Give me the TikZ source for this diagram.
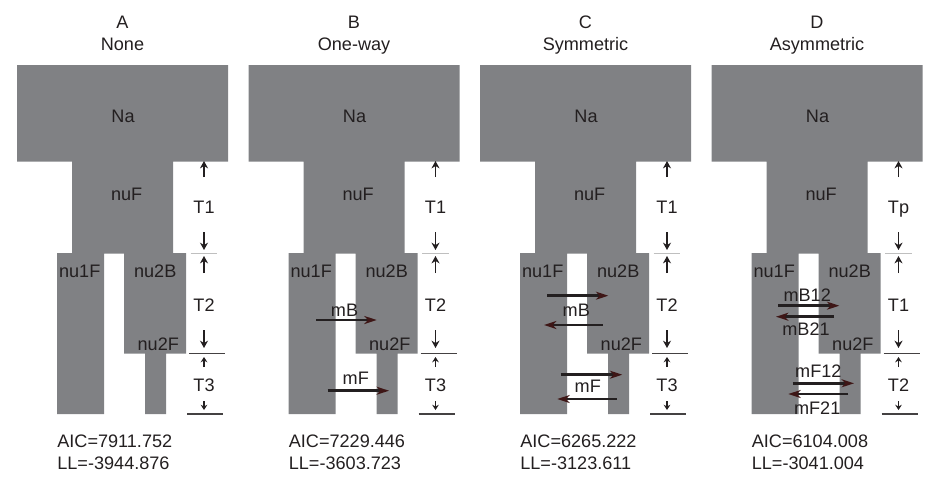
\documentclass[tikz,border=0pt]{standalone}
\usepackage{fontspec}
\setmainfont{Liberation Sans}
\usetikzlibrary{arrows.meta}
\definecolor{popgray}{HTML}{808184}
\definecolor{inkblack}{HTML}{231F20}
\definecolor{tipred}{HTML}{3E1616}
\definecolor{seplight}{HTML}{BFBFBF}

\begin{document}
\begin{tikzpicture}[
    x=0.02cm, y=-0.02cm,
    every node/.style={text=inkblack, font=\fontsize{10.3}{12}\selectfont, inner sep=0pt},
    lbl/.style={anchor=base},
    tarrow/.style={-{Stealth[length=4.2pt,width=4.6pt]}, line width=1.1pt, draw=inkblack},
    tsmall/.style={-{Stealth[length=3pt,width=3.8pt]}, line width=0.9pt, draw=inkblack},
    marrow/.style={-{Stealth[length=7pt,width=4.5pt,inset=2pt,color=tipred]}, line width=1.45pt, draw=inkblack},
    pics/panel/.style n args={7}{code={
      % population blocks
      \fill[popgray] (17,65) rectangle (228,161.5) (72,160.5) rectangle (173,253.5)
        (57,253) rectangle (104,414) (124,253) rectangle (186,353.5) (145,352.5) rectangle (166,414);
      \node[lbl] (-ttl) at (122.5,28) {#1};
      \node[lbl] (-sub) at (122.5,50) {#2};
      \node[lbl] (-na) at (123,122.3) {Na};
      \node[lbl] (-nuf) at (126.7,200) {nuF};
      \node[lbl] (-nua) at (79.7,277.3) {nu1F};
      \node[lbl] (-nub) at (155.2,277.3) {nu2B};
      \node[lbl] (-nuc) at (158.3,350) {nu2F};
      % time markers
      \draw[seplight, line width=0.6pt] (190.7,253.3) -- (217,253.3);
      \draw[inkblack!85, line width=0.6pt] (189,353.3) -- (225,353.3);
      \draw[inkblack!85, line width=0.6pt] (187,414) -- (223,414);
      \coordinate (-a0) at (204,161); \coordinate (-a1) at (204,177);
      \coordinate (-b0) at (204,250); \coordinate (-b1) at (204,232);
      \coordinate (-c0) at (204,256); \coordinate (-c1) at (204,273);
      \coordinate (-d0) at (204,348); \coordinate (-d1) at (204,330);
      \coordinate (-e0) at (204,357); \coordinate (-e1) at (204,367);
      \coordinate (-f0) at (204,410); \coordinate (-f1) at (204,401);
      \draw[tarrow] (-a1) -- (-a0);
      \draw[tarrow] (-b1) -- (-b0);
      \draw[tarrow] (-c1) -- (-c0);
      \draw[tarrow] (-d1) -- (-d0);
      \draw[tsmall] (-e1) -- (-e0);
      \draw[tsmall] (-f1) -- (-f0);
      \node[lbl] (-ta) at (204,213.3) {#3};
      \node[lbl] (-tb) at (204,311) {#4};
      \node[lbl] (-tc) at (204,391) {#5};
      \node[lbl, anchor=base west] (-aic) at (57,447.5) {AIC=#6};
      \node[lbl, anchor=base west] (-ll) at (57,469.5) {LL=#7};
    }}
  ]
    \useasboundingbox (0,0) rectangle (945,487);

    \pic (A) at (0,0) {panel={A}{None}{T1}{T2}{T3}{7911.752}{-3944.876}};
    \pic (B) at (231.5,0) {panel={B}{One-way}{T1}{T2}{T3}{7229.446}{-3603.723}};
    \pic (C) at (463,0) {panel={C}{Symmetric}{T1}{T2}{T3}{6265.222}{-3123.611}};
    \pic (D) at (694.5,0) {panel={D}{Asymmetric}{Tp}{T1}{T2}{6104.008}{-3041.004}};

    % migration, one-way
    \coordinate (B-mb0) at (316,320); \coordinate (B-mb1) at (376.7,320);
    \coordinate (B-mf0) at (327.7,390.7); \coordinate (B-mf1) at (389,390.7);
    \draw[marrow] (B-mb0) -- (B-mb1);
    \draw[marrow] (B-mf0) -- (B-mf1);
    \node[lbl] (B-mb) at (344.5,316) {mB};
    \node[lbl] (B-mf) at (355.8,384) {mF};

    % migration, symmetric
    \coordinate (C-mb0) at (547.3,295.7); \coordinate (C-mb1) at (608.3,295.7);
    \coordinate (C-mb2) at (602.7,325); \coordinate (C-mb3) at (544,325);
    \coordinate (C-mf0) at (560.7,374.7); \coordinate (C-mf1) at (622.3,374.7);
    \coordinate (C-mf2) at (616.7,399); \coordinate (C-mf3) at (557.3,399);
    \draw[marrow] (C-mb0) -- (C-mb1);
    \draw[marrow] (C-mb2) -- (C-mb3);
    \draw[marrow] (C-mf0) -- (C-mf1);
    \draw[marrow] (C-mf2) -- (C-mf3);
    \node[lbl] (C-mb) at (576.3,316) {mB};
    \node[lbl] (C-mf) at (587.8,392.7) {mF};

    % migration, asymmetric
    \coordinate (D-mb0) at (778.3,305.7); \coordinate (D-mb1) at (839.3,305.7);
    \coordinate (D-mb2) at (834,316.7); \coordinate (D-mb3) at (776,316.7);
    \coordinate (D-mf0) at (792.7,383.3); \coordinate (D-mf1) at (854,383.3);
    \coordinate (D-mf2) at (848.3,394); \coordinate (D-mf3) at (788.3,394);
    \draw[marrow] (D-mb0) -- (D-mb1);
    \draw[marrow] (D-mb2) -- (D-mb3);
    \draw[marrow] (D-mf0) -- (D-mf1);
    \draw[marrow] (D-mf2) -- (D-mf3);
    \node[lbl] (D-mb12) at (807.2,301) {mB12};
    \node[lbl] (D-mb21) at (806,335) {mB21};
    \node[lbl] (D-mf12) at (818.3,377.7) {mF12};
    \node[lbl] (D-mf21) at (817.2,414) {mF21};
  \end{tikzpicture}
\end{document}
